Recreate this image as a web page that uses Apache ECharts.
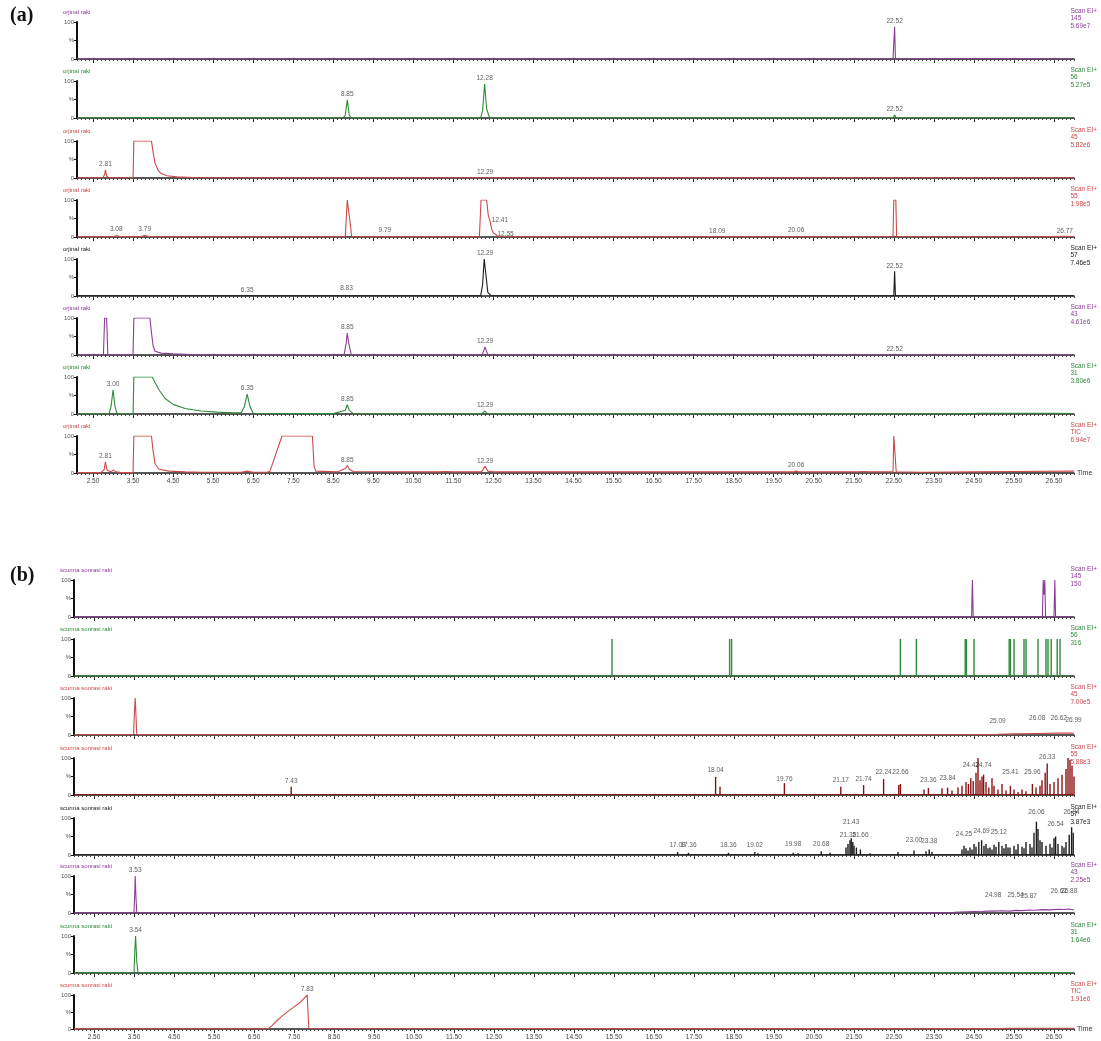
<!DOCTYPE html>
<html>
<head>
<meta charset="utf-8">
<script src="https://cdn.jsdelivr.net/npm/echarts@6/dist/echarts.min.js"></script>
<style>html,body{margin:0;background:#fff}#main{width:1101px;height:1041px}</style>
</head>
<body>
<div id="main"></div>
<script>
// tick labels of the time axis (min)
var tickLabels = ['2.50','3.50','4.50','5.50','6.50','7.50','8.50','9.50','10.50','11.50','12.50','13.50','14.50',
  '15.50','16.50','17.50','18.50','19.50','20.50','21.50','22.50','23.50','24.50','25.50','26.50'];

var titleA = 'orjinal raki';
var titleB = 'scurma sonrasi raki';
var ionsA = ['145','56','45','55','57','43','31','TIC'];
var intensA = ['5.69e7','5.27e5','5.82e6','1.98e5','7.46e5','4.61e6','3.80e6','6.94e7'];
var ionsB = ['145','56','45','55','57','43','31','TIC'];
var intensB = ['150','316','7.00e5','5.88e3','3.87e3','2.25e5','1.64e6','1.91e6'];

// (a) orjinal raki, [time, %]
var traceA1 = [[2.1,0.5],[22.48,0.5],[22.50,2],[22.52,87],[22.54,2],[22.56,0.5],[27.0,0.5]];
var traceA2 = [[2.1,0.5],[3.6,0.5],[3.7,1.5],[3.9,1],[4.0,0.5],[8.75,0.5],[8.8,8],[8.85,49],[8.9,8],[8.95,0.5],
  [12.18,0.5],[12.23,20],[12.28,92],[12.33,25],[12.4,2],[12.5,0.5],[22.49,0.5],[22.52,9],[22.55,0.5],[27.0,0.5]];
var traceA3 = [[2.1,0.5],[2.75,0.5],[2.79,10],[2.81,22],[2.84,5],[2.9,0.5],[3.50,0.5],[3.52,100],[3.96,100],[4.0,70],
  [4.05,40],[4.12,22],[4.2,12],[4.35,6],[4.6,3],[5.0,1.5],[5.4,0.8],[12.25,0.5],[12.29,2],[12.33,0.5],[27.0,0.5]];
var traceA4 = [[2.1,0.5],[3.0,0.5],[3.08,3],[3.2,1],[3.7,1.5],[3.79,4],[3.9,1],[4.0,0.5],[8.80,0.5],[8.83,60],[8.85,100],
  [8.89,100],[8.92,40],[8.96,0.5],[9.75,0.5],[9.79,3],[9.83,0.5],[12.15,0.5],[12.19,100],[12.33,100],[12.37,60],
  [12.41,45],[12.46,20],[12.5,10],[12.55,8],[12.6,2],[12.7,0.5],[18.05,0.5],[18.09,1.5],[18.13,0.5],[20.03,0.5],
  [20.06,4],[20.09,0.5],[22.48,0.5],[22.50,100],[22.55,100],[22.57,0.5],[26.0,0.5],[26.5,1.5],[26.77,2],[27.0,1.5]];
var traceA5 = [[2.1,0.5],[6.32,0.5],[6.35,2],[6.38,0.5],[8.79,0.5],[8.83,5],[8.87,0.5],[12.18,0.5],[12.23,30],
  [12.27,100],[12.31,60],[12.36,10],[12.45,0.5],[22.50,0.5],[22.52,67],[22.54,0.5],[27.0,0.5]];
var traceA6 = [[2.1,0.5],[2.76,0.5],[2.79,100],[2.84,100],[2.87,0.5],[3.50,0.5],[3.52,100],[3.92,100],[3.96,60],
  [4.0,25],[4.05,10],[4.2,5],[4.5,3],[4.8,2],[5.0,0.5],[8.77,0.5],[8.82,30],[8.85,59],[8.89,30],[8.95,0.5],
  [12.22,0.5],[12.29,22],[12.36,0.5],[22.50,0.5],[22.52,2],[22.54,0.5],[27.0,0.5]];
var traceA7 = [[2.1,0.5],[2.9,0.5],[2.95,20],[3.0,65],[3.05,20],[3.1,0.5],[3.50,0.5],[3.52,100],[3.98,100],[4.05,85],
  [4.15,65],[4.3,42],[4.5,26],[4.8,15],[5.2,8],[5.6,5],[6.0,3],[6.2,3],[6.28,20],[6.35,54],[6.42,20],[6.5,2],
  [7.5,1.5],[8.5,1],[8.8,10],[8.85,25],[8.9,10],[9.0,1],[12.2,0.5],[12.29,8],[12.35,0.5],[24.4,0.5],[24.6,2],
  [26.5,2],[27.0,1.5]];
var traceA8 = [[2.1,1],[2.7,1],[2.78,10],[2.81,30],[2.85,8],[2.95,3],[3.0,8],[3.08,3],[3.2,1],[3.50,1],[3.52,100],
  [3.96,100],[4.0,60],[4.05,25],[4.15,10],[4.4,5],[4.8,3],[5.2,2],[6.2,2],[6.35,5],[6.5,2],[6.85,2],[6.92,5],
  [7.22,100],[7.98,100],[8.02,20],[8.06,5],[8.6,3],[8.8,12],[8.85,20],[8.9,10],[9.0,4],[11.1,3],[11.3,4],[11.5,3],
  [12.2,3],[12.29,18],[12.36,5],[12.5,3],[20.0,3],[20.06,5],[20.12,3],[21.6,3],[21.75,4],[21.9,3],[22.48,3],
  [22.50,100],[22.54,100],[22.56,3],[23.2,2],[24.5,3],[25.5,4],[27.0,5]];

var lblA1 = [[22.52,87]];
var lblA2 = [[8.85,49],[12.28,92],[22.52,9]];
var lblA3 = [[2.81,22],[12.29,2]];
var lblA4 = [[3.08,5],[3.79,5],[9.79,3],[12.41,45],[12.55,8],[18.09,1.5],[20.06,4],[26.77,2]];
var lblA5 = [[6.35,2],[8.83,5],[12.29,100],[22.52,67]];
var lblA6 = [[8.85,59],[12.29,22],[22.52,2]];
var lblA7 = [[3.00,65],[6.35,54],[8.85,25],[12.29,8]];
var lblA8 = [[2.81,30],[8.85,20],[12.29,18],[20.06,5]];

// (b) scurma sonrasi raki
var traceB1 = [[2.0,0.5],[24.44,0.5],[24.46,100],[24.48,0.5],[26.21,0.5],[26.23,100],[26.25,60],[26.27,100],
  [26.29,0.5],[26.50,0.5],[26.52,100],[26.54,0.5],[27.0,0.5]];
var traceB2 = [[2.0,0.5],[27.0,0.5]];
var sticksB2 = [[15.45,100],[18.39,100],[18.44,100],[22.66,100],[23.06,100],[24.28,100],[24.31,100],[24.50,100],
  [25.38,100],[25.41,100],[25.50,100],[25.75,100],[25.80,100],[26.10,100],[26.30,100],[26.35,100],[26.43,100],
  [26.58,100],[26.65,100]];
var traceB3 = [[2.0,0.5],[3.49,0.5],[3.51,60],[3.53,100],[3.55,50],[3.57,0.5],[23.8,0.5],[24.5,1],[25.09,2],
  [25.5,3],[26.08,4],[26.62,5],[26.99,5],[27.0,5]];
var traceB4 = [[2.0,0.5],[27.0,0.5]];
var sticksB4 = [[7.43,22],[18.04,49],[18.15,22],[19.76,32],[21.17,22],[21.74,27],[22.24,43],[22.62,27],[22.66,30],
  [23.25,15],[23.36,19],[23.70,18],[23.84,20],[23.95,12],[24.10,20],[24.20,25],[24.30,35],[24.36,30],[24.42,45],
  [24.48,38],[24.55,60],[24.60,100],[24.65,40],[24.70,50],[24.74,55],[24.80,35],[24.87,20],[24.95,45],[25.00,25],
  [25.10,15],[25.20,30],[25.30,12],[25.41,25],[25.50,15],[25.60,8],[25.70,15],[25.80,10],[25.96,30],[26.05,20],
  [26.15,25],[26.20,40],[26.28,60],[26.33,85],[26.40,30],[26.50,35],[26.60,45],[26.70,55],[26.80,70],[26.85,100],
  [26.90,95],[26.95,80],[27.00,50]];
var traceB5 = [[2.0,0.5],[27.0,0.5]];
var sticksB5 = [[17.09,8],[17.36,6],[18.36,6],[19.02,8],[19.10,5],[19.98,6],[20.10,5],[20.68,10],[20.90,6],
  [21.30,20],[21.35,30],[21.40,40],[21.43,45],[21.47,35],[21.50,25],[21.56,20],[21.66,15],[21.90,5],[22.60,8],
  [23.00,12],[23.30,10],[23.38,15],[23.45,8],[24.20,15],[24.25,25],[24.30,18],[24.35,12],[24.40,20],[24.45,15],
  [24.50,30],[24.55,22],[24.62,35],[24.69,40],[24.75,25],[24.80,30],[24.85,18],[24.90,20],[24.95,15],[25.00,28],
  [25.05,22],[25.12,35],[25.20,25],[25.25,18],[25.30,30],[25.35,20],[25.40,20],[25.50,25],[25.55,15],[25.60,30],
  [25.70,22],[25.75,18],[25.80,35],[25.90,30],[25.95,20],[26.00,60],[26.06,90],[26.10,70],[26.15,40],[26.20,35],
  [26.30,25],[26.40,30],[26.45,20],[26.50,45],[26.54,50],[26.60,30],[26.70,25],[26.75,20],[26.80,35],[26.88,55],
  [26.94,75],[26.98,60]];
var traceB6 = [[2.0,0.5],[3.50,0.5],[3.52,60],[3.53,100],[3.55,40],[3.57,0.5],[9.5,0.5],[10.0,1],[10.5,0.5],
  [23.0,0.5],[23.5,1],[24.0,2],[24.5,4],[24.7,3],[24.8,5.5],[24.98,5],[25.2,6],[25.4,5],[25.54,7],[25.7,6.5],
  [25.87,8],[26.0,7.5],[26.2,9],[26.4,8.5],[26.62,10],[26.75,9.5],[26.88,11],[27.0,8]];
var traceB7 = [[2.0,0.5],[3.50,0.5],[3.52,60],[3.54,100],[3.57,30],[3.6,0.5],[25.3,0.5],[25.5,1.5],[26.9,1.5],[27.0,1]];
var traceB8 = [[2.0,0.5],[6.85,0.5],[6.95,10],[7.05,22],[7.2,38],[7.35,52],[7.5,65],[7.65,78],[7.75,90],[7.83,100],
  [7.85,50],[7.87,2],[7.9,0.5],[23.3,0.5],[23.5,1],[25.2,1],[25.3,2],[27.0,2]];

var lblB3 = [[25.09,22],[26.08,30],[26.62,30],[26.99,25]];
var lblB4 = [[7.43,22],[18.04,51],[19.76,27],[21.17,24],[21.74,27],[22.24,46],[22.66,46],[23.36,24],[23.84,30],
  [24.42,65],[24.74,65],[25.41,46],[25.96,46],[26.33,86]];
var lblB5 = [[17.09,11],[17.36,11],[18.36,11],[19.02,11],[19.98,14],[20.68,14],[21.35,38],[21.43,73],[21.66,38],
  [23.00,24],[23.38,22],[24.25,41],[24.69,49],[25.12,46],[26.06,100],[26.54,68],[26.94,100]];
var lblB6 = [[3.53,100],[24.98,32],[25.54,34],[25.87,30],[26.62,43],[26.88,43]];
var lblB7 = [[3.54,100]];
var lblB8 = [[7.83,100]];

// colours
var PURPLE = '#8c3d98', GREEN = '#2f8a3a', RED = '#cc4a4a', BLACK = '#1a1a1a', DARKRED = '#8b1010';

var panelsA = [
  {trace: traceA1, labels: lblA1, color: PURPLE},
  {trace: traceA2, labels: lblA2, color: GREEN},
  {trace: traceA3, labels: lblA3, color: RED},
  {trace: traceA4, labels: lblA4, color: RED},
  {trace: traceA5, labels: lblA5, color: BLACK},
  {trace: traceA6, labels: lblA6, color: PURPLE},
  {trace: traceA7, labels: lblA7, color: GREEN},
  {trace: traceA8, labels: lblA8, color: RED}
];
var panelsB = [
  {trace: traceB1, labels: [], color: PURPLE},
  {trace: traceB2, sticks: sticksB2, labels: [], color: GREEN},
  {trace: traceB3, labels: lblB3, color: RED},
  {trace: traceB4, sticks: sticksB4, labels: lblB4, color: DARKRED, text: RED},
  {trace: traceB5, sticks: sticksB5, labels: lblB5, color: BLACK},
  {trace: traceB6, labels: lblB6, color: PURPLE},
  {trace: traceB7, labels: lblB7, color: GREEN},
  {trace: traceB8, labels: lblB8, color: RED}
];

var sideLabels = {'12.41': 'right', '12.55': 'right'};

var topsA = [22, 81, 141, 200, 259, 318, 377, 436];
var topsB = [580, 639, 698, 758, 818, 876, 936, 995];
var H = 37;
var majorTicks = tickLabels.map(Number);

var grids = [], xAxes = [], yAxes = [], series = [], graphics = [];

function addPanel(p, top, left, min, title, ion, inten, isLast) {
  var k = grids.length;
  grids.push({left: left, right: 27, top: top, height: H});
  xAxes.push({
    type: 'value', gridIndex: k, min: min, max: 27.0, position: 'bottom',
    axisLine: {lineStyle: {color: '#222', width: 1.5}},
    axisTick: {customValues: majorTicks, length: 4, lineStyle: {color: '#222'}},
    axisLabel: {show: isLast, customValues: majorTicks, fontSize: 6.5, color: '#444', margin: 5,
      formatter: function (v) { return v.toFixed(2); }},
    splitLine: {show: false},
    name: isLast ? 'Time' : '', nameLocation: 'end', nameGap: 3,
    nameTextStyle: {fontSize: 7, color: '#333', verticalAlign: 'middle'}
  });
  // minor ticks every 0.1 min
  xAxes.push({
    type: 'value', gridIndex: k, min: min, max: 27.0, interval: 0.1, position: 'bottom', offset: 0,
    axisLine: {show: false},
    axisTick: {length: 2, lineStyle: {color: '#444'}},
    axisLabel: {show: false}, splitLine: {show: false}
  });
  yAxes.push({
    type: 'value', gridIndex: k, min: 0, max: 100, interval: 50,
    axisLine: {show: true, lineStyle: {color: '#111', width: 2}},
    axisTick: {show: true, length: 3, lineStyle: {color: '#111'}},
    axisLabel: {fontSize: 6, color: '#555', margin: 3,
      formatter: function (v) { return v === 100 ? '100' : (v === 50 ? '%' : '0'); }},
    splitLine: {show: false}
  });
  if (p.sticks) {
    series.push({type: 'bar', xAxisIndex: 2 * k, yAxisIndex: k, data: p.sticks, barWidth: 1.4,
      itemStyle: {color: p.color}, silent: true});
  }
  series.push({type: 'line', xAxisIndex: 2 * k, yAxisIndex: k, data: p.trace, showSymbol: false,
    lineStyle: {color: p.color, width: 1.1}, silent: true});
  if (p.labels.length) {
    series.push({type: 'scatter', xAxisIndex: 2 * k, yAxisIndex: k, symbolSize: 0, silent: true, z: 5,
      data: p.labels.map(function (d) {
        var txt = d[0].toFixed(2);
        return {value: d, label: {position: sideLabels[txt] || 'top'}};
      }),
      label: {show: true, distance: 2, fontSize: 6.5, color: '#333',
        formatter: function (q) { return q.value[0].toFixed(2); }}});
  }
  var tc = p.text || p.color;
  graphics.push({type: 'text', left: left - 14, top: top - 13,
    style: {text: title, fill: tc, font: '6px Arial'}});
  graphics.push({type: 'text', right: 4, top: top - 15,
    style: {text: 'Scan EI+\n' + ion + '\n' + inten, fill: tc, font: '6.5px Arial', align: 'right', lineHeight: 7.5}});
}

panelsA.forEach(function (p, i) {
  addPanel(p, topsA[i], 77, 2.1, titleA, ionsA[i], intensA[i], i === panelsA.length - 1);
});
panelsB.forEach(function (p, i) {
  addPanel(p, topsB[i], 74, 2.0, titleB, ionsB[i], intensB[i], i === panelsB.length - 1);
});

graphics.push({type: 'text', left: 10, top: 6, style: {text: '(a)', fill: '#111', font: 'bold 20px "Liberation Serif"'}});
graphics.push({type: 'text', left: 10, top: 566, style: {text: '(b)', fill: '#111', font: 'bold 20px "Liberation Serif"'}});

var chart = echarts.init(document.getElementById('main'));
chart.setOption({
  animation: false,
  backgroundColor: '#fff',
  grid: grids,
  xAxis: xAxes,
  yAxis: yAxes,
  series: series,
  graphic: graphics
});
</script>
</body>
</html>
